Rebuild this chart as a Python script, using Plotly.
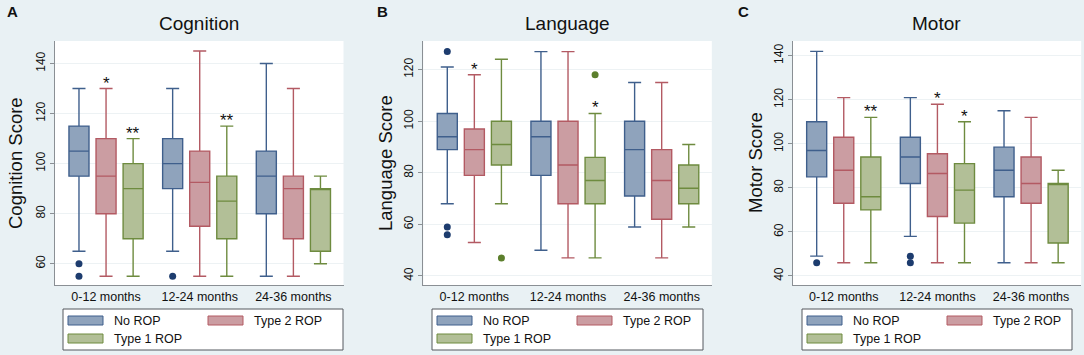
import plotly.graph_objects as go

# ---------------- data ----------------
groups = ["0-12 months", "12-24 months", "24-36 months"]
series = ["No ROP", "Type 2 ROP", "Type 1 ROP"]

# Cognition (per series: values for the 3 age groups)
cog_lower = {"No ROP": [65, 65, 55], "Type 2 ROP": [55, 55, 55], "Type 1 ROP": [55, 55, 60]}
cog_q1 = {"No ROP": [95, 90, 80], "Type 2 ROP": [80, 75, 70], "Type 1 ROP": [70, 70, 65]}
cog_median = {"No ROP": [105, 100, 95], "Type 2 ROP": [95, 92.5, 90], "Type 1 ROP": [90, 85, 90]}
cog_q3 = {"No ROP": [115, 110, 105], "Type 2 ROP": [110, 105, 95], "Type 1 ROP": [100, 95, 90]}
cog_upper = {"No ROP": [130, 130, 140], "Type 2 ROP": [130, 145, 130], "Type 1 ROP": [110, 115, 95]}
cog_out_series = ["No ROP", "No ROP", "No ROP"]
cog_out_group = [0, 0, 1]
cog_out_value = [60, 55, 55]
cog_sig_group = [0, 0, 1]
cog_sig_series = ["Type 2 ROP", "Type 1 ROP", "Type 1 ROP"]
cog_sig_text = ["*", "**", "**"]

# Language
lang_lower = {"No ROP": [68, 50, 59], "Type 2 ROP": [53, 47, 47], "Type 1 ROP": [68, 47, 59]}
lang_q1 = {"No ROP": [89, 79, 71], "Type 2 ROP": [79, 68, 62], "Type 1 ROP": [83, 68, 68]}
lang_median = {"No ROP": [94, 94, 89], "Type 2 ROP": [89, 83, 77], "Type 1 ROP": [91, 77, 74]}
lang_q3 = {"No ROP": [103, 100, 100], "Type 2 ROP": [97, 100, 89], "Type 1 ROP": [100, 86, 83]}
lang_upper = {"No ROP": [121, 127, 115], "Type 2 ROP": [118, 127, 115], "Type 1 ROP": [124, 103, 91]}
lang_out_series = ["No ROP", "No ROP", "No ROP", "Type 1 ROP", "Type 1 ROP"]
lang_out_group = [0, 0, 0, 0, 1]
lang_out_value = [127, 59, 56, 47, 118]
lang_sig_group = [0, 1]
lang_sig_series = ["Type 2 ROP", "Type 1 ROP"]
lang_sig_text = ["*", "*"]

# Motor
mot_lower = {"No ROP": [49, 58, 46], "Type 2 ROP": [46, 46, 46], "Type 1 ROP": [46, 46, 46]}
mot_q1 = {"No ROP": [85, 82, 76], "Type 2 ROP": [73, 67, 73], "Type 1 ROP": [70, 64, 55]}
mot_median = {"No ROP": [97, 94, 88], "Type 2 ROP": [88, 86.5, 82], "Type 1 ROP": [76, 79, 82]}
mot_q3 = {"No ROP": [110, 103, 98.5], "Type 2 ROP": [103, 95.5, 94], "Type 1 ROP": [94, 91, 82]}
mot_upper = {"No ROP": [142, 121, 115], "Type 2 ROP": [121, 118, 112], "Type 1 ROP": [112, 110, 88]}
mot_out_series = ["No ROP", "No ROP", "No ROP"]
mot_out_group = [0, 1, 1]
mot_out_value = [46, 49, 46]
mot_sig_group = [0, 1, 1]
mot_sig_series = ["Type 1 ROP", "Type 2 ROP", "Type 1 ROP"]
mot_sig_text = ["**", "*", "*"]

panel_letters = ["A", "B", "C"]
panel_titles = ["Cognition", "Language", "Motor"]
panel_ytitles = ["Cognition Score", "Language Score", "Motor Score"]
panel_yticks = [[60, 80, 100, 120, 140], [40, 60, 80, 100, 120], [40, 60, 80, 100, 120, 140]]

# ---------------- styling ----------------
W, H = 1084, 355
FONT = "Liberation Sans, Arial, Helvetica, sans-serif"
BG = "#E9F1F4"
fill_colors = {"No ROP": "#8FA3BC", "Type 2 ROP": "#CB9DA2", "Type 1 ROP": "#B2BF97"}
line_colors = {"No ROP": "#3F5F8C", "Type 2 ROP": "#B35A63", "Type 1 ROP": "#6E8B3F"}
out_colors = {"No ROP": "#1D3C6E", "Type 2 ROP": "#A0404A", "Type 1 ROP": "#5C7F2C"}
offsets = {"No ROP": -0.289, "Type 2 ROP": 0.0, "Type 1 ROP": 0.289}
BOX_W = 0.214
XRANGE = [-0.545, 2.535]

plot_left_px = [55, 423.3, 792.7]
plot_w_px = 288.5
plot_top_px, plot_bot_px = 41, 285
yranges = [[51.5, 149.0], [36.5, 131.1], [35.9, 146.7]]
legend_px = [(63, 343), (432, 703), (802, 1072)]
ytitle_x_px = [15, 385, 755]
letter_x_px = [12, 382, 743]

panels = [
    (cog_lower, cog_q1, cog_median, cog_q3, cog_upper,
     cog_out_series, cog_out_group, cog_out_value, cog_sig_group, cog_sig_series, cog_sig_text),
    (lang_lower, lang_q1, lang_median, lang_q3, lang_upper,
     lang_out_series, lang_out_group, lang_out_value, lang_sig_group, lang_sig_series, lang_sig_text),
    (mot_lower, mot_q1, mot_median, mot_q3, mot_upper,
     mot_out_series, mot_out_group, mot_out_value, mot_sig_group, mot_sig_series, mot_sig_text),
]

fig = go.Figure()
annotations = []
shapes = []
layout_axes = {}

def px_x(p):
    return p / W

def px_y(p):
    return 1 - p / H

for i, (lo, q1, med, q3, up, os_, og, ov, sg, ss, st) in enumerate(panels):
    n = i + 1
    xa = "x" if n == 1 else f"x{n}"
    ya = "y" if n == 1 else f"y{n}"
    xkey = "xaxis" if n == 1 else f"xaxis{n}"
    ykey = "yaxis" if n == 1 else f"yaxis{n}"
    left = plot_left_px[i]
    dom_x = [px_x(left), px_x(left + plot_w_px)]
    dom_y = [px_y(plot_bot_px), px_y(plot_top_px)]

    for s in series:
        fig.add_trace(go.Box(
            x=[g + offsets[s] for g in range(len(groups))],
            q1=q1[s], median=med[s], q3=q3[s],
            lowerfence=lo[s], upperfence=up[s],
            width=BOX_W, whiskerwidth=0.65,
            fillcolor=fill_colors[s],
            line=dict(color=line_colors[s], width=1.4),
            boxpoints=False, showlegend=False, name=s,
            xaxis=xa, yaxis=ya, hoverinfo="skip",
        ))

    for s in series:
        xs = [og[k] + offsets[s] for k in range(len(ov)) if os_[k] == s]
        ys = [ov[k] for k in range(len(ov)) if os_[k] == s]
        if xs:
            fig.add_trace(go.Scatter(
                x=xs, y=ys, mode="markers",
                marker=dict(size=7, color=out_colors[s]),
                showlegend=False, xaxis=xa, yaxis=ya, hoverinfo="skip",
            ))

    for k in range(len(sg)):
        s = ss[k]
        g = sg[k]
        annotations.append(dict(
            x=g + offsets[s], y=up[s][g], xref=xa, yref=ya,
            text=st[k], showarrow=False, yanchor="bottom", yshift=-6,
            font=dict(family=FONT, size=17, color="#111111"),
        ))

    layout_axes[xkey] = dict(
        domain=dom_x, range=XRANGE, anchor=ya,
        tickvals=list(range(len(groups))), ticktext=groups,
        showgrid=False, zeroline=False, ticks="",
        showline=True, linecolor="#8A8F94", linewidth=1.2,
        tickfont=dict(family=FONT, size=12.5, color="#111111"),
        fixedrange=True,
    )
    layout_axes[ykey] = dict(
        domain=dom_y, range=yranges[i], anchor=xa,
        tickvals=panel_yticks[i], tickangle=-90,
        ticks="outside", ticklen=4, tickcolor="#8A8F94",
        showgrid=True, gridcolor="#EDF2F4", gridwidth=1,
        zeroline=False, showline=True, linecolor="#8A8F94", linewidth=1.2,
        tickfont=dict(family=FONT, size=12, color="#111111"),
        fixedrange=True,
    )

    # panel title
    annotations.append(dict(
        x=px_x(left + plot_w_px / 2), y=px_y(23), xref="paper", yref="paper",
        text=panel_titles[i], showarrow=False, xanchor="center", yanchor="middle",
        font=dict(family=FONT, size=19, color="#111111"),
    ))
    # panel letter
    annotations.append(dict(
        x=px_x(letter_x_px[i]), y=px_y(12), xref="paper", yref="paper",
        text="<b>" + panel_letters[i] + "</b>", showarrow=False,
        xanchor="center", yanchor="middle",
        font=dict(family=FONT, size=15, color="#111111"),
    ))
    # y title
    annotations.append(dict(
        x=px_x(ytitle_x_px[i]), y=px_y((plot_top_px + plot_bot_px) / 2),
        xref="paper", yref="paper", text=panel_ytitles[i], textangle=-90,
        showarrow=False, xanchor="center", yanchor="middle",
        font=dict(family=FONT, size=18.5, color="#111111"),
    ))

    # legend (drawn)
    lx0, lx1 = legend_px[i]
    ly0, ly1 = 309, 350
    shapes.append(dict(type="rect", xref="paper", yref="paper",
                       x0=px_x(lx0), x1=px_x(lx1), y0=px_y(ly1), y1=px_y(ly0),
                       fillcolor="white", line=dict(color="#55595E", width=1)))
    entries = [(series[0], 5, 316, 325), (series[1], 145, 316, 325), (series[2], 5, 334, 343)]
    for s, dx, sy0, sy1 in entries:
        shapes.append(dict(type="rect", xref="paper", yref="paper",
                           x0=px_x(lx0 + dx), x1=px_x(lx0 + dx + 35),
                           y0=px_y(sy1), y1=px_y(sy0),
                           fillcolor=fill_colors[s], line=dict(color=line_colors[s], width=1)))
        annotations.append(dict(
            x=px_x(lx0 + dx + 44), y=px_y((sy0 + sy1) / 2 + 0.5), xref="paper", yref="paper",
            text=s, showarrow=False, xanchor="left", yanchor="middle",
            font=dict(family=FONT, size=12.5, color="#111111"),
        ))

fig.update_layout(
    width=W, height=H,
    margin=dict(l=0, r=0, t=0, b=0),
    paper_bgcolor=BG, plot_bgcolor="white",
    showlegend=False,
    annotations=annotations, shapes=shapes,
    **layout_axes,
)

fig.write_html(
    "out.html",
    config={"displayModeBar": False},
    post_script="document.body.style.margin='0';document.body.style.background='" + BG + "';",
)
